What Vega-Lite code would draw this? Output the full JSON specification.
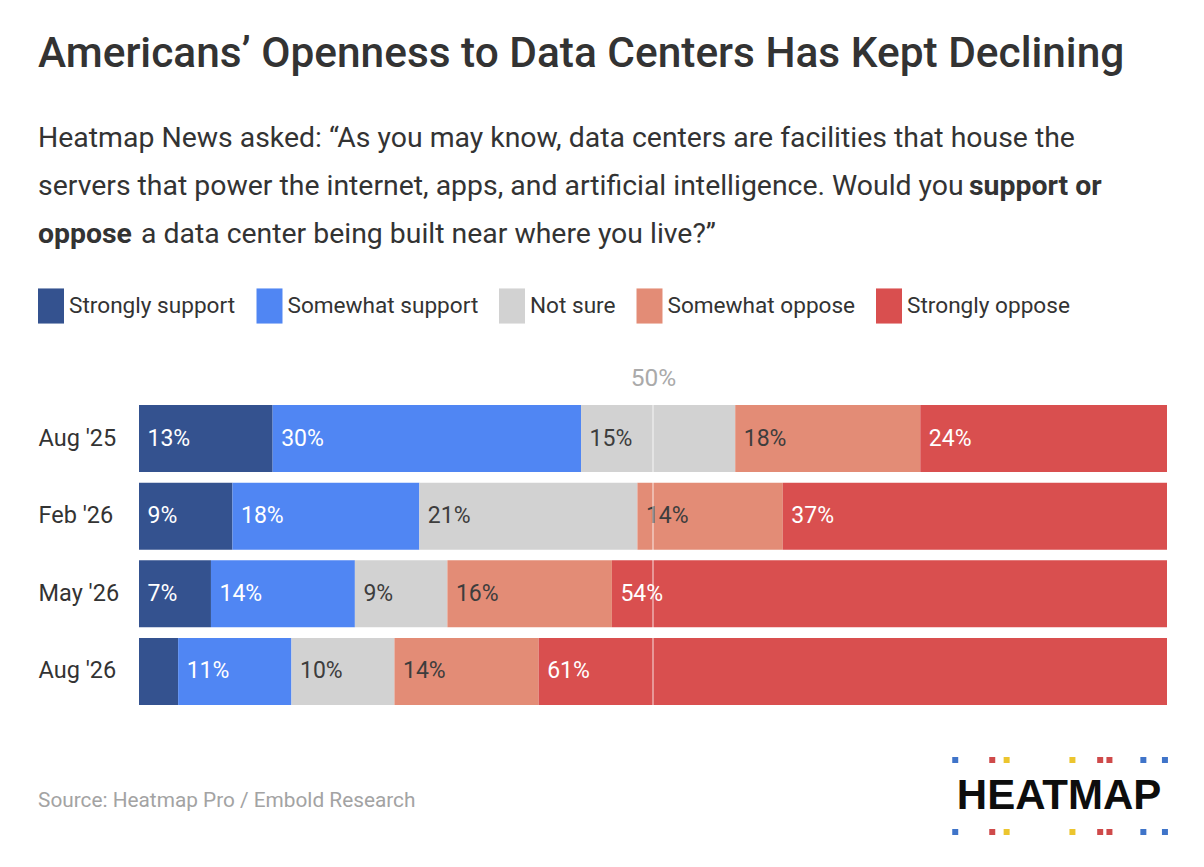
{
  "$schema": "https://vega.github.io/schema/vega-lite/v6.json",
  "width": 1028,
  "height": 300,
  "autosize": "none",
  "padding": {"left": 139, "top": 405, "right": 37, "bottom": 162},
  "background": "#ffffff",
  "config": {"view": {"stroke": null}, "font": "Roboto"},
  "title": {
    "text": "Americans’ Openness to Data Centers Has Kept Declining",
    "anchor": "start",
    "frame": "group",
    "dx": -101,
    "offset": 47,
    "font": "Roboto",
    "fontSize": 42.4,
    "fontWeight": 500,
    "color": "#333333"
  },
  "datasets": {
    "survey": [
      {"month": "Aug '25", "response": "Strongly support", "order": 1, "value": 0.13},
      {"month": "Aug '25", "response": "Somewhat support", "order": 2, "value": 0.30},
      {"month": "Aug '25", "response": "Not sure", "order": 3, "value": 0.15},
      {"month": "Aug '25", "response": "Somewhat oppose", "order": 4, "value": 0.18},
      {"month": "Aug '25", "response": "Strongly oppose", "order": 5, "value": 0.24},
      {"month": "Feb '26", "response": "Strongly support", "order": 1, "value": 0.09},
      {"month": "Feb '26", "response": "Somewhat support", "order": 2, "value": 0.18},
      {"month": "Feb '26", "response": "Not sure", "order": 3, "value": 0.21},
      {"month": "Feb '26", "response": "Somewhat oppose", "order": 4, "value": 0.14},
      {"month": "Feb '26", "response": "Strongly oppose", "order": 5, "value": 0.37},
      {"month": "May '26", "response": "Strongly support", "order": 1, "value": 0.07},
      {"month": "May '26", "response": "Somewhat support", "order": 2, "value": 0.14},
      {"month": "May '26", "response": "Not sure", "order": 3, "value": 0.09},
      {"month": "May '26", "response": "Somewhat oppose", "order": 4, "value": 0.16},
      {"month": "May '26", "response": "Strongly oppose", "order": 5, "value": 0.54},
      {"month": "Aug '26", "response": "Strongly support", "order": 1, "value": 0.038},
      {"month": "Aug '26", "response": "Somewhat support", "order": 2, "value": 0.11},
      {"month": "Aug '26", "response": "Not sure", "order": 3, "value": 0.10},
      {"month": "Aug '26", "response": "Somewhat oppose", "order": 4, "value": 0.14},
      {"month": "Aug '26", "response": "Strongly oppose", "order": 5, "value": 0.61}
    ],
    "logoDots": [
      {"pos": 0.794, "brand": "blue"},
      {"pos": 0.830, "brand": "red"},
      {"pos": 0.844, "brand": "yellow"},
      {"pos": 0.908, "brand": "yellow"},
      {"pos": 0.935, "brand": "red"},
      {"pos": 0.944, "brand": "red"},
      {"pos": 0.977, "brand": "blue"},
      {"pos": 0.998, "brand": "blue"}
    ]
  },
  "data": {"name": "survey"},
  "layer": [
    {
      "transform": [
        {"stack": "value", "groupby": ["month"], "sort": [{"field": "order"}], "offset": "normalize", "as": ["x0", "x1"]}
      ],
      "mark": {"type": "bar"},
      "encoding": {
        "x": {
          "field": "x0",
          "type": "quantitative",
          "scale": {"domain": [0, 1], "nice": false},
          "axis": {
            "orient": "top",
            "title": null,
            "values": [0.5],
            "format": ".0%",
            "grid": false,
            "domain": false,
            "ticks": false,
            "labelFontSize": 24.5,
            "labelColor": "#aaaaaa",
            "labelPadding": 15
          }
        },
        "x2": {"field": "x1"},
        "y": {
          "field": "month",
          "type": "nominal",
          "sort": null,
          "scale": {"domain": ["Aug '25", "Feb '26", "May '26", "Aug '26"], "paddingInner": 0.137, "paddingOuter": 0},
          "axis": {
            "title": null,
            "domain": false,
            "ticks": false,
            "labelAlign": "left",
            "labelPadding": 101,
            "labelFontSize": 23.5,
            "labelColor": "#333333"
          }
        },
        "color": {
          "field": "response",
          "type": "nominal",
          "scale": {
            "domain": ["Strongly support", "Somewhat support", "Not sure", "Somewhat oppose", "Strongly oppose"],
            "range": ["#34528f", "#5086f3", "#d2d2d2", "#e38c76", "#d94f4f"]
          },
          "legend": {
            "title": null,
            "orient": "none",
            "legendX": -101,
            "legendY": -112,
            "direction": "horizontal",
            "columns": 5,
            "gridAlign": "none",
            "columnPadding": 20.5,
            "symbolType": "M-1,-1.35H1V1.35H-1Z",
            "symbolSize": 676,
            "symbolStrokeWidth": 0,
            "labelOffset": 5,
            "labelFontSize": 22.6,
            "labelColor": "#333333",
            "labelLimit": 300
          }
        }
      }
    },
    {
      "transform": [
        {"stack": "value", "groupby": ["month"], "sort": [{"field": "order"}], "offset": "normalize", "as": ["x0", "x1"]},
        {"filter": "datum.value >= 0.05"}
      ],
      "mark": {"type": "text", "align": "left", "dx": 8.5, "fontSize": 23},
      "encoding": {
        "x": {"field": "x0", "type": "quantitative"},
        "y": {"field": "month", "type": "nominal", "sort": null},
        "text": {"field": "value", "format": ".0%"},
        "color": {
          "condition": {"test": "datum.order === 3 || datum.order === 4", "value": "#3d3d3d"},
          "value": "#ffffff"
        }
      }
    },
    {
      "data": {"values": [{"at": 0.5}]},
      "mark": {"type": "rule", "color": "#ffffff", "opacity": 0.55, "strokeWidth": 1.5},
      "encoding": {"x": {"field": "at", "type": "quantitative"}}
    },
    {
      "data": {"values": [{"note": "Heatmap News asked: “As you may know, data centers are facilities that house the"}]},
      "mark": {"type": "text", "align": "left", "dy": -301, "fontSize": 28.4, "color": "#333333"},
      "encoding": {
        "x": {"datum": -0.0982, "type": "quantitative"},
        "y": {"datum": "Aug '25", "type": "nominal", "bandPosition": 0.5},
        "text": {"field": "note"}
      }
    },
    {
      "data": {"values": [{"note": "servers that power the internet, apps, and artificial intelligence. Would you"}]},
      "mark": {"type": "text", "align": "left", "dy": -253, "fontSize": 28.4, "color": "#333333"},
      "encoding": {
        "x": {"datum": -0.0982, "type": "quantitative"},
        "y": {"datum": "Aug '25", "type": "nominal", "bandPosition": 0.5},
        "text": {"field": "note"}
      }
    },
    {
      "data": {"values": [{"note": "support or"}]},
      "mark": {"type": "text", "align": "left", "dy": -253, "fontSize": 28.4, "fontWeight": "bold", "color": "#333333"},
      "encoding": {
        "x": {"datum": 0.8074, "type": "quantitative"},
        "y": {"datum": "Aug '25", "type": "nominal", "bandPosition": 0.5},
        "text": {"field": "note"}
      }
    },
    {
      "data": {"values": [{"note": "oppose"}]},
      "mark": {"type": "text", "align": "left", "dy": -205, "fontSize": 28.4, "fontWeight": "bold", "color": "#333333"},
      "encoding": {
        "x": {"datum": -0.0982, "type": "quantitative"},
        "y": {"datum": "Aug '25", "type": "nominal", "bandPosition": 0.5},
        "text": {"field": "note"}
      }
    },
    {
      "data": {"values": [{"note": "a data center being built near where you live?”"}]},
      "mark": {"type": "text", "align": "left", "dy": -205, "fontSize": 28.4, "color": "#333333"},
      "encoding": {
        "x": {"datum": 0.0019, "type": "quantitative"},
        "y": {"datum": "Aug '25", "type": "nominal", "bandPosition": 0.5},
        "text": {"field": "note"}
      }
    },
    {
      "data": {"values": [{"note": "Source: Heatmap Pro / Embold Research"}]},
      "mark": {"type": "text", "align": "left", "dy": 130, "fontSize": 20.8, "color": "#a3a3a3"},
      "encoding": {
        "x": {"datum": -0.0982, "type": "quantitative"},
        "y": {"datum": "Aug '26", "type": "nominal", "bandPosition": 0.5},
        "text": {"field": "note"}
      }
    },
    {
      "data": {"values": [{"note": "HEATMAP"}]},
      "mark": {"type": "text", "align": "center", "dy": 125, "font": "Liberation Sans", "fontWeight": "bold", "fontSize": 42, "color": "#0d0d0d"},
      "encoding": {
        "x": {"datum": 0.895, "type": "quantitative"},
        "y": {"datum": "Aug '26", "type": "nominal", "bandPosition": 0.5},
        "text": {"field": "note"}
      }
    },
    {
      "data": {"name": "logoDots"},
      "mark": {"type": "square", "size": 36, "opacity": 1, "yOffset": 88.5},
      "encoding": {
        "x": {"field": "pos", "type": "quantitative"},
        "y": {"datum": "Aug '26", "type": "nominal", "bandPosition": 0.5},
        "fill": {
          "field": "brand",
          "type": "nominal",
          "legend": null,
          "scale": {"domain": ["blue", "red", "yellow"], "range": ["#3f74c9", "#cf4a4a", "#ecc52e"]}
        }
      }
    },
    {
      "data": {"name": "logoDots"},
      "mark": {"type": "square", "size": 36, "opacity": 1, "yOffset": 160.5},
      "encoding": {
        "x": {"field": "pos", "type": "quantitative"},
        "y": {"datum": "Aug '26", "type": "nominal", "bandPosition": 0.5},
        "fill": {"field": "brand", "type": "nominal", "legend": null}
      }
    }
  ]
}
